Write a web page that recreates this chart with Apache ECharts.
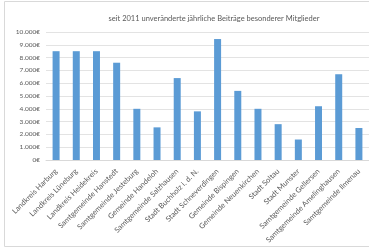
<!DOCTYPE html>
<html>
<head>
<meta charset="utf-8">
<script src="https://cdn.jsdelivr.net/npm/echarts@6/dist/echarts.min.js"></script>
<style>
  html, body { margin: 0; padding: 0; background: #fff; }
  #chart { width: 369px; height: 250px; }
</style>
</head>
<body>
<div id="chart"></div>
<script>
  // Mitglieder und ihre jährlichen Beiträge (seit 2011 unverändert)
  var members = ['Landkreis Harburg', 'Landkreis Lüneburg', 'Landkreis Heidekreis',
    'Samtgemeinde Hanstedt', 'Samtgemeinde Jesteburg', 'Gemeinde Handeloh',
    'Samtgemeinde Salzhausen', 'Stadt Buchholz i. d. N.', 'Stadt Schneverdingen',
    'Gemeinde Bispingen', 'Gemeinde Neuenkirchen', 'Stadt Soltau', 'Stadt Munster',
    'Samtgemeinde Gellersen', 'Samtgemeinde Amelinghausen', 'Samtgemeinde Ilmenau'];
  var beitraege = [8500, 8500, 8500, 7600, 4000, 2550, 6400, 3800, 9450, 5400, 4000, 2800, 1600, 4200, 6700, 2500];
  var yTicks = [0, 1000, 2000, 3000, 4000, 5000, 6000, 7000, 8000, 9000, 10000];

  var chart = echarts.init(document.getElementById('chart'));
  var textFont = 'Lato';

  chart.setOption({
    animation: false,
    title: {
      text: 'seit 2011 unveränderte jährliche Beiträge besonderer Mitglieder',
      left: 209,
      top: 10,
      textAlign: 'center',
      textStyle: { fontFamily: textFont, fontSize: 7.5, fontWeight: 'normal', color: '#595959' }
    },
    graphic: [{
      type: 'rect',
      shape: { x: 4.5, y: 1.5, width: 380, height: 245 },
      style: { fill: 'none', stroke: '#d9d9d9', lineWidth: 1 },
      z: -1
    }],
    grid: { left: 46, top: 32, width: 331, height: 128 },
    xAxis: {
      type: 'category',
      data: members,
      axisLine: { lineStyle: { color: '#d9d9d9' } },
      axisTick: { show: false },
      axisLabel: {
        interval: 0,
        rotate: 45,
        margin: 10,
        fontFamily: textFont,
        fontSize: 7.5,
        color: '#595959'
      }
    },
    yAxis: {
      type: 'value',
      min: yTicks[0],
      max: yTicks[yTicks.length - 1],
      interval: 1000,
      axisLine: { show: false },
      axisTick: { show: false },
      splitLine: { lineStyle: { color: '#e3e3e3' } },
      axisLabel: {
        margin: 6,
        fontFamily: textFont,
        fontSize: 6.5,
        color: '#595959',
        formatter: function (v) {
          return v.toLocaleString('de-DE') + '€';
        }
      }
    },
    series: [{
      type: 'bar',
      data: beitraege,
      barWidth: 7,
      itemStyle: { color: '#5b9bd5' }
    }]
  });
</script>
</body>
</html>
